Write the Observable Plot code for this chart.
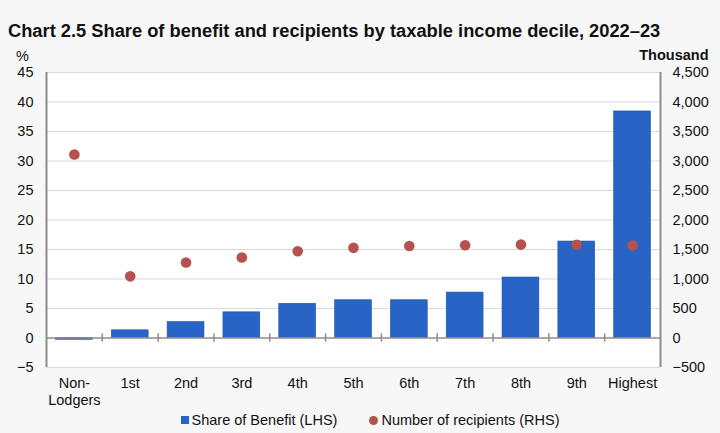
<!DOCTYPE html>
<html>
<head>
<meta charset="utf-8">
<script src="https://cdn.jsdelivr.net/npm/d3@7"></script>
<script src="https://cdn.jsdelivr.net/npm/@observablehq/plot@0.6"></script>
<style>
  html, body { margin: 0; padding: 0; background: #f7f7f7; }
  body { width: 720px; height: 433px; overflow: hidden; font-family: "Liberation Sans", Arial, sans-serif; }
  #title { position: absolute; left: 8px; top: 20px; font-size: 18.3px; font-weight: bold; color: #111; white-space: nowrap; }
  #chart { position: absolute; left: 0; top: 44px; }
  #legend { position: absolute; left: 10px; top: 412px; width: 720px; text-align: center; font-size: 14.5px; color: #111; }
  #legend span.item { display: inline-block; margin: 0 16px; }
  #legend .sq { display: inline-block; width: 8px; height: 8px; background: #2864c6; margin-right: 3px; vertical-align: 1px; }
  #legend .ci { display: inline-block; width: 9px; height: 9px; border-radius: 50%; background: #b5514e; margin-right: 3px; vertical-align: 0px; }
</style>
</head>
<body>
<div id="title">Chart 2.5 Share of benefit and recipients by taxable income decile, 2022–23</div>
<div id="chart"></div>
<div id="legend"><span class="item"><span class="sq"></span>Share of Benefit (LHS)</span><span class="item"><span class="ci"></span>Number of recipients (RHS)</span></div>
<script>
const categories = ["Non-\nLodgers", "1st", "2nd", "3rd", "4th", "5th", "6th", "7th", "8th", "9th", "Highest"];
const shareOfBenefit = [-0.3, 1.3, 2.7, 4.35, 5.8, 6.4, 6.4, 7.7, 10.25, 16.35, 38.4];
const recipients = [3110, 1045, 1280, 1365, 1470, 1528, 1560, 1572, 1583, 1580, 1568]; // thousand
const leftTicks = [-5, 0, 5, 10, 15, 20, 25, 30, 35, 40, 45];
const rightTicks = [-500, 0, 500, 1000, 1500, 2000, 2500, 3000, 3500, 4000, 4500];

const ratio = 4500 / 45; // RHS thousand per LHS percent
const data = categories.map((c, i) => ({cat: c, share: shareOfBenefit[i], rec: recipients[i]}));

const width = 720, height = 368;
const mL = 46, mR = 60, mT = 28, mB = 45;
const step = (width - mL - mR) / categories.length;
const grey = "#8c8c8c";

const chart = Plot.plot({
  width, height,
  marginLeft: mL, marginRight: mR, marginTop: mT, marginBottom: mB,
  style: {fontFamily: "Liberation Sans, Arial, sans-serif", fontSize: "14.5px", color: "#111", background: "transparent", overflow: "visible"},
  x: {domain: categories, paddingInner: 0.34, paddingOuter: 0.17, round: false, label: null},
  y: {domain: [-5, 45], label: null},
  marks: [
    Plot.frame({fill: "white", stroke: "none"}),
    Plot.ruleY(leftTicks.filter(d => d !== 0), {stroke: "#d9d9d9", strokeWidth: 1.2}),
    Plot.barY(data, {x: "cat", y: "share", fill: "#2864c6", stroke: "#1f50a8", strokeWidth: 0.6}),
    Plot.ruleY([0], {stroke: grey, strokeWidth: 1.5}),
    Plot.ruleX(categories.slice(1), {x: d => d, y1: -0.7, y2: 0.7, dx: -step / 2, stroke: grey, strokeWidth: 1.5}),
    Plot.ruleX([0], {x: () => categories[0], y1: -5, y2: 45, dx: -step / 2, stroke: grey, strokeWidth: 2}),
    Plot.ruleX([0], {x: () => categories[categories.length - 1], y1: -5, y2: 45, dx: step / 2, stroke: grey, strokeWidth: 2}),
    Plot.dot(data, {x: "cat", y: d => d.rec / ratio, r: 5.3, fill: "#b5514e", stroke: "none"}),
    Plot.axisY({anchor: "left", ticks: leftTicks, tickSize: 0, tickPadding: 13, label: null}),
    Plot.axisY({anchor: "right", ticks: leftTicks, tickSize: 0, tickPadding: 12, label: null,
      tickFormat: d => d3.format(",")(Math.round(d * ratio))}),
    Plot.axisX({anchor: "bottom", tickSize: 0, tickPadding: 8, label: null, lineHeight: 1.2}),
    Plot.text(["%"], {frameAnchor: "top-left", dx: -24, dy: -22, text: d => d, textAnchor: "middle", fontSize: 14.5}),
    Plot.text(["Thousand"], {frameAnchor: "top-right", dx: 48, dy: -23, text: d => d, textAnchor: "end", fontWeight: "bold", fontSize: 14.5})
  ]
});
document.getElementById("chart").appendChild(chart);
</script>
</body>
</html>
